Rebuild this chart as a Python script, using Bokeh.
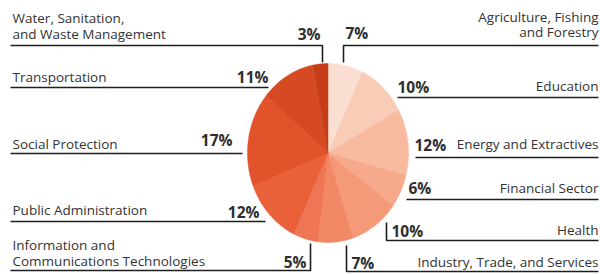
import numpy as np
from bokeh.plotting import figure
from bokeh.models import Range1d
from bokeh.core.properties import value
from bokeh.embed import file_html
from bokeh.resources import INLINE

# ---- data (clockwise from 12 o'clock) ----
sectors = [
    "Agriculture, Fishing and Forestry",
    "Education",
    "Energy and Extractives",
    "Financial Sector",
    "Health",
    "Industry, Trade, and Services",
    "Information and Communications Technologies",
    "Public Administration",
    "Social Protection",
    "Transportation",
    "Water, Sanitation, and Waste Management",
]
shares = [7, 10, 12, 6, 10, 7, 5, 12, 17, 11, 3]
colors = ["#fbdfd3", "#f9ccb7", "#f8bba0", "#f6aa8b", "#f49a79", "#f18866",
          "#ee7654", "#ea6039", "#e0532b", "#d54a22", "#c53d18"]
label_lines = [
    ["Agriculture, Fishing", "and Forestry"],
    ["Education"],
    ["Energy and Extractives"],
    ["Financial Sector"],
    ["Health"],
    ["Industry, Trade, and Services"],
    ["Information and", "Communications Technologies"],
    ["Public Administration"],
    ["Social Protection"],
    ["Transportation"],
    ["Water, Sanitation,", "and Waste Management"],
]

# ---- layout (reference pixel coordinates, y downwards) ----
CX, CY, RX, RY = 327.5, 152.5, 80.5, 89.5
DY = 4  # rendering offset correction
layout = {
    # side, label baselines, pct (x, baseline), leader polyline
    0: ("R", [20, 35], (345, 36), ([598, 343, 343], [45, 45, 62])),
    1: ("R", [89], (397, 90), ([598, 397], [97, 97])),
    2: ("R", [147], (414, 148), ([598, 415], [157, 157])),
    3: ("R", [191], (408, 191), ([598, 406], [199, 199])),
    4: ("R", [233], (391, 234), ([598, 386, 386], [240, 240, 222])),
    5: ("R", [265], (351, 266), ([598, 346, 346], [271, 271, 245])),
    6: ("L", [248, 264], (306, 265), ([10, 310, 310], [270, 270, 243])),
    7: ("L", [213], (259, 215), ([10, 265], [221, 221])),
    8: ("L", [147], (232, 143), ([10, 242], [153, 153])),
    9: ("L", [80], (268, 80), ([10, 268], [87, 87])),
    10: ("L", [21, 37], (320, 37), ([10, 322, 322], [45, 45, 62])),
}

p = figure(width=600, height=274, output_backend="svg", toolbar_location=None,
           x_range=Range1d(0, 600), y_range=Range1d(-274, 0),
           min_border=0, outline_line_color=None)
p.axis.visible = False
p.grid.visible = False

# pie slices
frac = np.array(shares, dtype=float) / sum(shares)
ends = np.cumsum(frac) * 2 * np.pi
starts = ends - frac * 2 * np.pi
xs, ys = [], []
for s, e in zip(starts, ends):
    t = np.linspace(s, e, 60)
    xs.append([CX] + list(CX + RX * np.sin(t)))
    ys.append([-CY] + list(-CY + RY * np.cos(t)))
p.patches(xs, ys, fill_color=colors, line_color=colors, line_width=0.5)

# leaders and labels
LF = value("Open Sans")
for i, sec in enumerate(sectors):
    side, bases, (px, pb), (lx, ly) = layout[i]
    p.line(lx, [-v for v in ly], line_color="#1e1e1e", line_width=1.6)
    lab_x = 598 if side == "R" else 12
    align = "right" if side == "R" else "left"
    for txt, b in zip(label_lines[i], bases):
        p.text(x=[lab_x], y=[-(b - DY)], text=[txt], text_font=LF, text_font_size="13.5px",
               text_color="#333333", text_align=align, text_baseline="alphabetic")
    p.text(x=[px], y=[-(pb - DY)], text=[f"{shares[i]}%"], text_font=LF,
           text_font_size="15.5px", text_font_style="bold", text_color="#2e2e2e",
           text_align="left" if side == "R" else "right", text_baseline="alphabetic")

open("out.html", "w").write(file_html(p, INLINE))
